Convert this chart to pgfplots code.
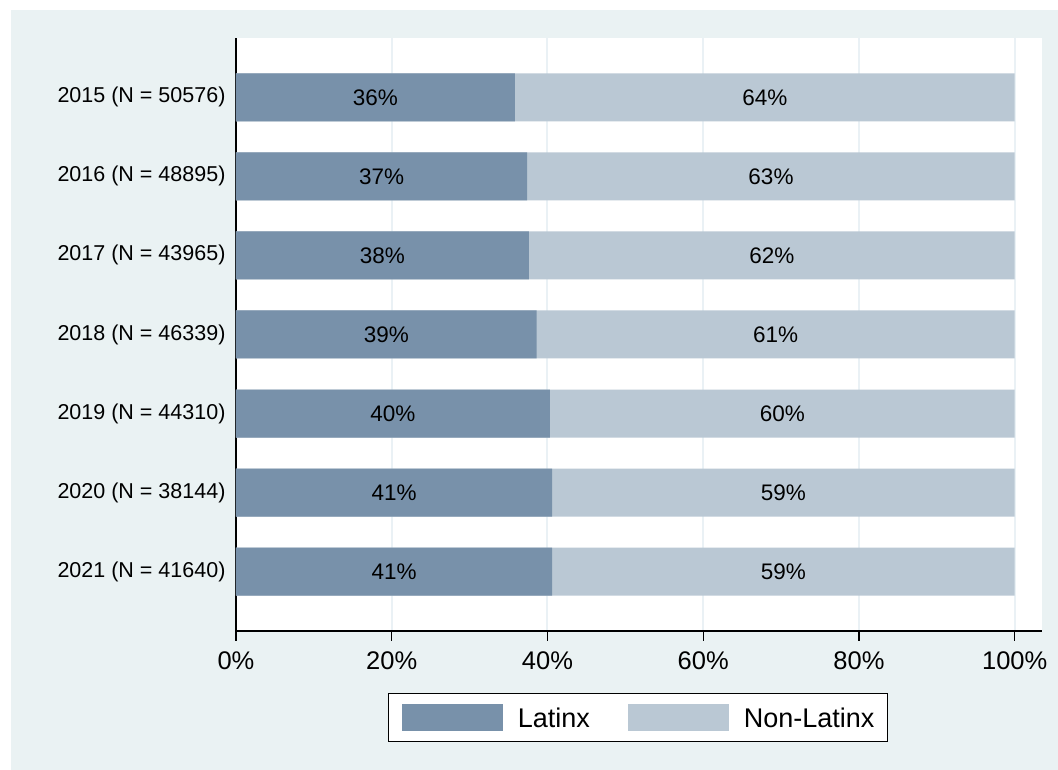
\documentclass[border=0pt]{standalone}
\usepackage{fontspec}
\setmainfont{Liberation Sans}
\usepackage{pgfplots}
\usepackage{pgfplotstable}
\pgfplotsset{compat=1.18}
\usetikzlibrary{backgrounds}

\definecolor{bgcol}{RGB}{234,242,243}
\definecolor{gridcol}{RGB}{234,241,245}
\definecolor{latcol}{RGB}{120,145,170}
\definecolor{noncol}{RGB}{186,200,212}

% idx runs bottom-up: 7 = 2015 at the top
\pgfplotstableread{
idx lat non
7 35.8 64.2
6 37.4 62.6
5 37.6 62.4
4 38.6 61.4
3 40.3 59.7
2 40.6 59.4
1 40.6 59.4
}\shares

\begin{document}
\begin{tikzpicture}[x=1pt,y=1pt]
\useasboundingbox (-236,-139) rectangle (822,631);
\begin{axis}[
  at={(0,0)}, anchor=south west,
  scale only axis, width=806pt, height=593pt,
  xmin=0, xmax=103.5, ymin=0.25, ymax=7.75,
  axis background/.style={fill=white},
  axis x line*=bottom, axis y line*=left,
  axis line style={-, black, line width=1.2pt},
  xtick={0,20,...,100},
  xticklabel={\pgfmathprintnumber{\tick}\%},
  /pgf/number format/assume math mode=true,
  xticklabel style={font=\fontsize{25.5}{30}\selectfont, yshift=-7pt},
  tick align=outside, major tick length=10pt,
  xtick style={black, line width=1.2pt},
  ytick={1,...,7},
  yticklabels={2021 (N = 41640),2020 (N = 38144),2019 (N = 44310),2018 (N = 46339),2017 (N = 43965),2016 (N = 48895),2015 (N = 50576)},
  yticklabel style={font=\fontsize{21.5}{26}\selectfont, xshift=3pt},
  ytick style={draw=none},
  xmajorgrids, major grid style={gridcol, line width=2pt},
  legend image code/.code={\path[#1, fill, draw=none] (0pt,-12.5pt) rectangle (101pt,14.5pt);},
  legend columns=2,
  legend style={at={(0.499,-0.1046)}, anchor=north, draw=black, line width=1.2pt,
    fill=white, font=\fontsize{27}{32}\selectfont,
    inner xsep=13pt, inner ysep=10.5pt, nodes={inner sep=0pt},
    /tikz/every odd column/.append style={column sep=15pt},
    /tikz/every even column/.append style={column sep=38pt}},
]
\addplot[xbar, bar width=48pt, bar shift=0pt, fill=noncol, draw=none, forget plot]
  table[x expr=\thisrow{lat}+\thisrow{non}, y=idx]{\shares};
\addplot[xbar, bar width=48pt, bar shift=0pt, fill=latcol, draw=none, forget plot]
  table[x=lat, y=idx]{\shares};
\addplot[only marks, mark=*, mark size=0pt, mark options={draw=none, fill=none},
  point meta=explicit, forget plot,
  nodes near coords={\pgfmathprintnumber[fixed,precision=0]{\pgfplotspointmeta}\%},
  every node near coord/.style={anchor=center, black, font=\fontsize{22.5}{27}\selectfont}]
  table[x expr=\thisrow{lat}/2, y=idx, meta=lat]{\shares};
\addplot[only marks, mark=*, mark size=0pt, mark options={draw=none, fill=none},
  point meta=explicit, forget plot,
  nodes near coords={\pgfmathprintnumber[fixed,precision=0]{\pgfplotspointmeta}\%},
  every node near coord/.style={anchor=center, black, font=\fontsize{22.5}{27}\selectfont}]
  table[x expr=\thisrow{lat}+\thisrow{non}/2, y=idx, meta=non]{\shares};
\addlegendimage{fill=latcol}
\addlegendentry{Latinx}
\addlegendimage{fill=noncol}
\addlegendentry{Non-Latinx}
\end{axis}
\begin{scope}[on background layer]
\fill[bgcol] (-225,-139) rectangle (822,621);
\end{scope}
\end{tikzpicture}
\end{document}
